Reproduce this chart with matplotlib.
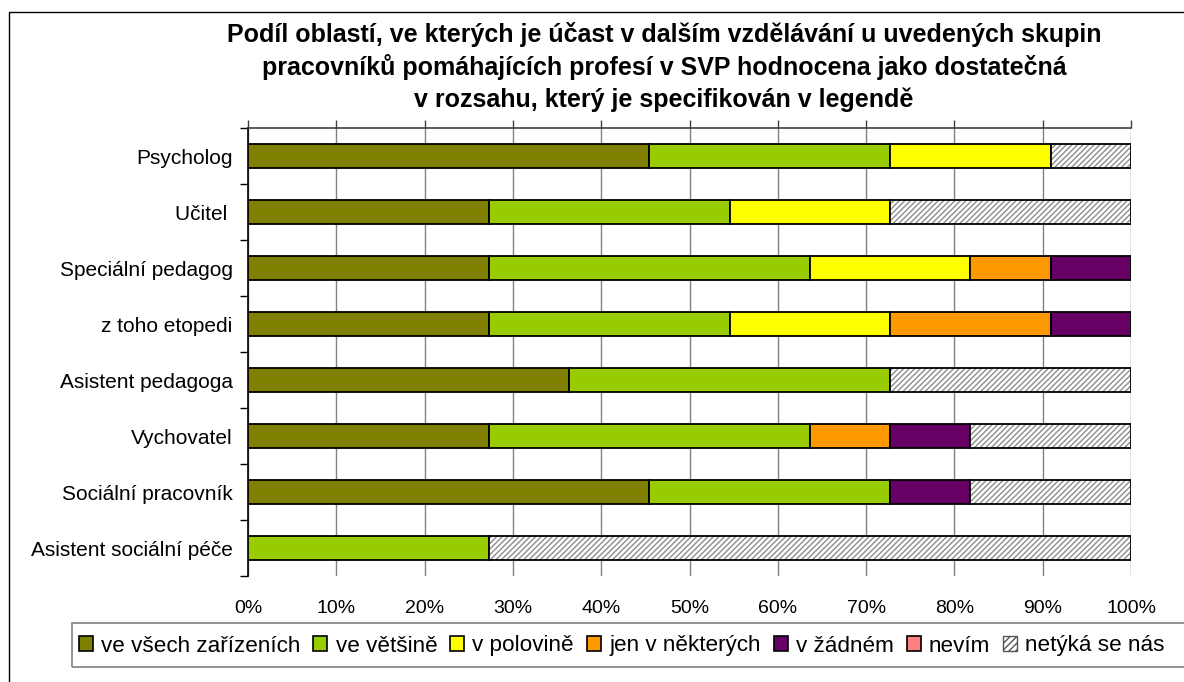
import matplotlib
matplotlib.use("Agg")
import matplotlib.pyplot as plt
from matplotlib.patches import Patch, Rectangle
from matplotlib.ticker import FixedLocator, PercentFormatter
import numpy as np

plt.rcParams['font.family'] = ['Liberation Sans', 'DejaVu Sans']

categories = ["Psycholog", "Učitel ", "Speciální pedagog", "z toho etopedi",
              "Asistent pedagoga", "Vychovatel", "Sociální pracovník",
              "Asistent sociální péče"]
series_names = ["ve všech zařízeních", "ve většině", "v polovině",
                "jen v některých", "v žádném", "nevím", "netýká se nás"]
# shares in percent
ve_vsech = [45.45, 27.27, 27.27, 27.27, 36.36, 27.27, 45.45, 0.0]
ve_vetsine = [27.27, 27.27, 36.36, 27.27, 36.36, 36.36, 27.27, 27.27]
v_polovine = [18.18, 18.18, 18.18, 18.18, 0.0, 0.0, 0.0, 0.0]
jen_v_nekterych = [0.0, 0.0, 9.09, 18.18, 0.0, 9.09, 0.0, 0.0]
v_zadnem = [0.0, 0.0, 9.09, 9.09, 0.0, 9.09, 9.09, 0.0]
nevim = [0.0, 0.0, 0.0, 0.0, 0.0, 0.0, 0.0, 0.0]
netyka = [9.09, 27.27, 0.0, 0.0, 27.27, 18.18, 18.18, 72.73]
x_ticks = [0, 10, 20, 30, 40, 50, 60, 70, 80, 90, 100]
title_lines = ["Podíl oblastí, ve kterých je účast v dalším vzdělávání u uvedených skupin",
               "pracovníků pomáhajících profesí v SVP hodnocena jako dostatečná",
               "v rozsahu, který je specifikován v legendě"]

series = [ve_vsech, ve_vetsine, v_polovine, jen_v_nekterych, v_zadnem, nevim, netyka]
colors = ["#808000", "#99CC00", "#FFFF00", "#FF9900", "#660066", "#FF8080", "white"]

W, H = 1184, 682
fig = plt.figure(figsize=(W / 100, H / 100), dpi=100)
fig.patch.set_facecolor("white")

# outer chart border (left/top visible)
fig.add_artist(Rectangle((9 / W, -0.05), 1.1, 1 - 12 / H + 0.05, transform=fig.transFigure,
                         fill=False, edgecolor="black", linewidth=1.0))

ax = fig.add_axes([248 / W, 1 - 576 / H, (1131 - 248) / W, (576 - 128) / H])
y = np.arange(len(categories))
left = np.zeros(len(categories))
bh = 0.43
for vals, col, name in zip(series, colors, series_names):
    vals = np.array(vals)
    if name == "netýká se nás":
        ax.barh(y, vals, left=left, height=bh, color="white", edgecolor="#8c8c8c",
                hatch="//////", linewidth=0, zorder=3)
        ax.barh(y, vals, left=left, height=bh, fill=False, edgecolor="black",
                linewidth=1.3, zorder=4)
    else:
        mask = vals > 0
        ax.barh(y[mask], vals[mask], left=left[mask], height=bh, color=col,
                edgecolor="black", linewidth=1.3, zorder=3)
    left += vals

ax.set_xlim(0, 100)
ax.set_ylim(len(categories) - 0.5, -0.5)
ax.xaxis.set_major_locator(FixedLocator(x_ticks))
ax.xaxis.set_major_formatter(PercentFormatter(decimals=0))
ax.tick_params(axis="x", which="both", bottom=False, top=True, direction="out",
               length=6, width=1, color="#404040", labelsize=14, pad=11,
               labelbottom=True, labeltop=False)
ax.grid(axis="x", color="#808080", linewidth=1.0, zorder=0)
ax.set_axisbelow(True)

ax.set_yticks(y)
ax.set_yticklabels(categories)
ax.yaxis.set_minor_locator(FixedLocator(np.arange(-0.5, len(categories), 1.0)))
ax.tick_params(axis="y", which="major", length=0, labelsize=15, pad=11)
ax.tick_params(axis="y", which="minor", length=6, width=1, color="black", direction="out")

for s in ["bottom", "right"]:
    ax.spines[s].set_visible(False)
ax.spines["top"].set_color("#404040")
ax.spines["top"].set_linewidth(1.2)
ax.spines["left"].set_color("black")
ax.spines["left"].set_linewidth(1.2)

for i, line in enumerate(title_lines):
    fig.text(664 / W, 1 - (42 + 32.5 * i) / H, line, ha="center", va="baseline",
             fontsize=18, fontweight="bold", transform=fig.transFigure)

# legend frame
fig.add_artist(Rectangle((72 / W, 1 - 667 / H), 1.2, 44 / H, transform=fig.transFigure,
                         fill=False, edgecolor="#808080", linewidth=1.2))
handles = []
for col, name in zip(colors, series_names):
    if name == "netýká se nás":
        handles.append(Patch(facecolor="white", edgecolor="#555555", hatch="/////",
                             linewidth=1, label=name))
    else:
        handles.append(Patch(facecolor=col, edgecolor="black", linewidth=1.2, label=name))
leg = fig.legend(handles=handles, loc="center left",
                 bbox_to_anchor=(79 / W, 1 - 646 / H), bbox_transform=fig.transFigure,
                 ncol=7, frameon=False, fontsize=16.2, handlelength=0.62,
                 handleheight=0.6, handletextpad=0.36, columnspacing=0.58,
                 borderpad=0, borderaxespad=0)

fig.savefig("out.png", dpi=100, facecolor="white")
